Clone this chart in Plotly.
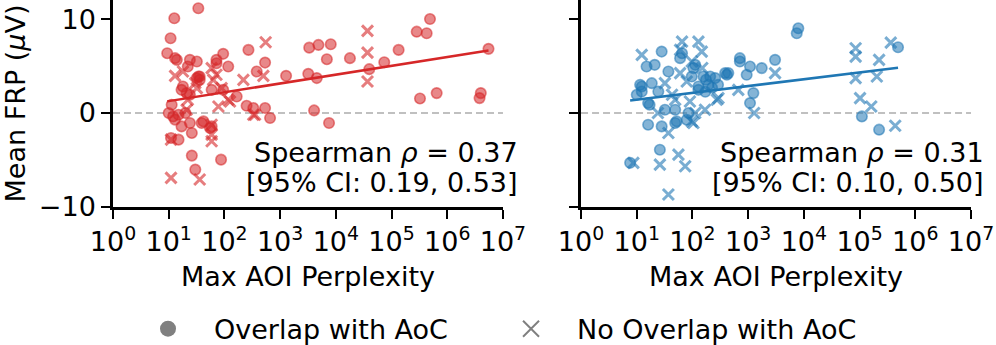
import math
import plotly.graph_objects as go

# ---------------- data ----------------
left_circle_x = [34, 12.6, 10.8, 9.4, 13, 24, 32, 95, 72, 117, 22, 34, 36, 17, 21, 59, 95, 166,
                 11.3, 12, 15, 17, 24, 39, 59, 26, 15, 11, 26, 87, 30, 270, 380, 250, 330, 537,
                 1280, 3330, 4870, 8100, 6900, 3200, 4550, 17900, 39800, 74000, 134000, 283000,
                 427000, 490000, 5.5e6, 324000, 646000, 4.0e6, 3.8e6, 4070, 7550, 537, 660,
                 10, 13, 20, 24, 18, 72, 42, 55, 32, 36, 14]
left_circle_y = [11.15, 10.08, 7.96, 6.37, 5.84, 5.66, 5.48, 6.3, 5.3, 4.95, 4.95, 3.89, 3.53, 2.47,
                 2.12, 2.47, 2.47, 1.76, 0.88, -0.36, -0.18, -1.42, -1.06, -1.06, -1.42, -2.12,
                 -2.83, -2.65, -4.53, -4.96, -6.02, 6.72, 4.42, 0.77, 0.53, 5.37, 3.96, 6.96, 7.25,
                 7.32, 5.73, 4.17, 3.72, 5.84, 4.67, 5.41, 6.72, 8.66, 8.49, 10.0, 6.83, 1.55, 2.12,
                 2.12, 1.59, 0.28, -1.06, 0.53, -0.53,
                 0.0, -0.7, 0.0, 1.94, 2.83, 5.66, -0.89, -1.6, 3.72, 3.89, 5.66]
left_cross_x = [13, 18, 30, 59, 72, 89, 78, 59, 59, 59, 11, 11, 36, 219, 126, 21, 550, 500, 355,
                117, 37000, 37000, 37000, 330, 32, 63, 22]
left_cross_y = [3.96, 4.42, 3.18, 4.78, 4.07, 2.65, 0.7, -1.24, -2.3, -3.0, -2.83, -6.9, -7.08,
                3.53, 1.23, 0.35, 7.54, 3.96, -0.18, 1.41, 8.74, 6.43, 3.36, -0.18, 2.65, 3.53, 1.41]

right_circle_x = [28, 15, 21, 37, 65, 11.5, 12.3, 18.6, 24.4, 16, 32, 16, 28, 49, 79, 49, 112, 128,
                  194, 158, 256, 386, 26, 7.6, 97, 60, 104, 208, 414, 710, 710, 1080, 940, 1750,
                  3040, 1240, 1080, 128, 170, 225, 288, 175, 52, 85, 10, 17, 12.3, 440, 7950, 7450,
                  110000, 224000, 490000]
right_circle_y = [6.54, 4.95, 5.13, 4.42, 6.37, 3.0, 2.29, 3.18, 2.29, 1.06, 0.35, -1.24, -1.42,
                  -1.06, -0.71, 0.35, 5.13, 2.47, 3.0, 3.89, 3.72, 4.25, -3.9, -5.3, 3.89, 5.84,
                  4.78, 3.89, 4.07, 5.84, 5.48, 4.95, 4.07, 4.78, 5.66, 2.12, 1.06, 2.83, 2.26,
                  2.69, 3.0, 3.54, -0.89, 0.0, 1.94, 0.88, 2.83, 4.25, 9.02, 8.49, -0.36, -1.77, 7.0]
right_cross_x = [12.3, 65, 128, 60, 147, 97, 60, 32, 79, 49, 24, 112, 104, 37, 293, 56, 74, 26, 37,
                 8.7, 274, 97, 665, 3040, 1280, 85000, 85000, 85000, 102000, 162000, 224000,
                 204000, 363000, 436000, 43, 90, 168, 150]
right_cross_y = [6.19, 7.6, 7.6, 6.72, 6.54, 5.48, 4.25, 3.18, 3.36, 1.41, 0.0, 0.0, -1.06, -2.12,
                 1.59, -4.42, -5.66, -5.49, -8.67, -5.3, 1.41, -0.89, 2.47, 4.25, 0.0, 6.9, 6.01,
                 3.72, 1.59, 0.7, 5.66, 3.89, 7.5, -1.35, 1.94, 1.23, 0.35, 4.8]

# regression lines (y = intercept + slope * log10(x))
left_fit = {"intercept": 0.33, "slope": 0.938}
right_fit = {"intercept": 0.705, "slope": 0.722}

stats_left = ["Spearman <i>ρ</i> = 0.37", "[95% CI: 0.19, 0.53]"]
stats_right = ["Spearman <i>ρ</i> = 0.31", "[95% CI: 0.10, 0.50]"]

x_tickvals = [1, 10, 100, 1e3, 1e4, 1e5, 1e6, 1e7]
x_ticktext = ["10<sup>%d</sup>" % i for i in range(8)]
y_tickvals = [-10, 0, 10]
y_ticktext = ["−10", "0", "10"]

legend_labels = ["Overlap with AoC", "No Overlap with AoC"]

# ---------------- styling ----------------
FONT = "DejaVu Sans"
FS = 27
RED = (214, 39, 40)
BLUE = (31, 119, 180)


def rgba(c, a):
    return "rgba(%d,%d,%d,%.2f)" % (c[0], c[1], c[2], a)


def fit_line(xs, fit):
    lo, hi = min(xs), max(xs)
    return [lo, hi], [fit["intercept"] + fit["slope"] * math.log10(v) for v in (lo, hi)]


fig = go.Figure()

panels = [
    ("x", "y", RED, left_circle_x, left_circle_y, left_cross_x, left_cross_y, left_fit),
    ("x2", "y2", BLUE, right_circle_x, right_circle_y, right_cross_x, right_cross_y, right_fit),
]
for xa, ya, col, cx, cy, xx, xy, fit in panels:
    fig.add_trace(go.Scatter(
        x=cx, y=cy, mode="markers", xaxis=xa, yaxis=ya, showlegend=False,
        marker=dict(symbol="circle", size=10.5, color=rgba(col, 0.55),
                    line=dict(color=rgba(col, 0.55), width=1.6))))
    fig.add_trace(go.Scatter(
        x=xx, y=xy, mode="markers", xaxis=xa, yaxis=ya, showlegend=False,
        marker=dict(symbol="x-thin", size=11, color=rgba(col, 0.6),
                    line=dict(color=rgba(col, 0.6), width=3))))
    lx, ly = fit_line(cx + xx, fit)
    fig.add_trace(go.Scatter(
        x=lx, y=ly, mode="lines", xaxis=xa, yaxis=ya, showlegend=False,
        line=dict(color=rgba(col, 1), width=2.5)))
    fig.add_shape(type="line", xref=xa + " domain", yref=ya, x0=0, x1=1, y0=0, y1=0,
                  line=dict(color="#c0c0c0", width=2, dash="7px,4px"), layer="below")

# legend-only entries (one legend box each, so both can be placed freely)
fig.add_trace(go.Scatter(x=[None], y=[None], mode="markers", name=legend_labels[0],
                         legend="legend",
                         marker=dict(symbol="circle", size=16, color="#808080")))
fig.add_trace(go.Scatter(x=[None], y=[None], mode="markers", name=legend_labels[1],
                         legend="legend2",
                         marker=dict(symbol="x-thin", size=16, color="#808080",
                                     line=dict(color="#808080", width=2))))

xaxis_common = dict(type="log", range=[0, 7], tickvals=x_tickvals, ticktext=x_ticktext,
                    showgrid=False, zeroline=False, showline=True, linecolor="black",
                    linewidth=2.5, ticks="outside", ticklen=9, tickwidth=2, tickcolor="black",
                    automargin=False,
                    tickfont=dict(family=FONT, size=FS, color="black"),
                    title=dict(text="Max AOI Perplexity", font=dict(family=FONT, size=FS, color="black"),
                               standoff=11))
yaxis_common = dict(range=[-10, 12.03], tickvals=y_tickvals, ticktext=y_ticktext,
                    showgrid=False, zeroline=False, showline=True, linecolor="black",
                    linewidth=2.5, ticks="outside", ticklen=9, tickwidth=2, tickcolor="black",
                    automargin=False,
                    tickfont=dict(family=FONT, size=FS, color="black"))

legend_common = dict(orientation="h", xanchor="left", y=-0.59, yanchor="middle",
                     font=dict(family=FONT, size=FS, color="black"), itemwidth=82,
                     bgcolor="rgba(0,0,0,0)")

fig.update_layout(
    width=996, height=345,
    margin=dict(l=113, r=25, t=0, b=138, autoexpand=False),
    paper_bgcolor="white", plot_bgcolor="white",
    font=dict(family=FONT, size=FS, color="black"),
    xaxis=dict(domain=[0, 0.4545], **xaxis_common),
    xaxis2=dict(domain=[0.5455, 1], **xaxis_common),
    yaxis=dict(anchor="x", title=dict(text="Mean FRP (<i>μ</i>V)",
                                       font=dict(family=FONT, size=FS, color="black"),
                                       standoff=10), **yaxis_common),
    yaxis2=dict(anchor="x2", showticklabels=False, **yaxis_common),
    legend=dict(x=0.0105, **legend_common),
    legend2=dict(x=0.4336, **legend_common),
)

ann_pos = [(0.4745, stats_left), (1.0175, stats_right)]
for xp, lines in ann_pos:
    for yp, txt in zip([0.2657, 0.116], lines):
        fig.add_annotation(text=txt, xref="paper", yref="paper", x=xp, y=yp,
                           xanchor="right", yanchor="middle", showarrow=False,
                           font=dict(family=FONT, size=FS, color="black"))

fig.write_html("out.html", config={"displayModeBar": False},
               post_script="document.body.style.margin='0';document.body.style.overflow='hidden';")
